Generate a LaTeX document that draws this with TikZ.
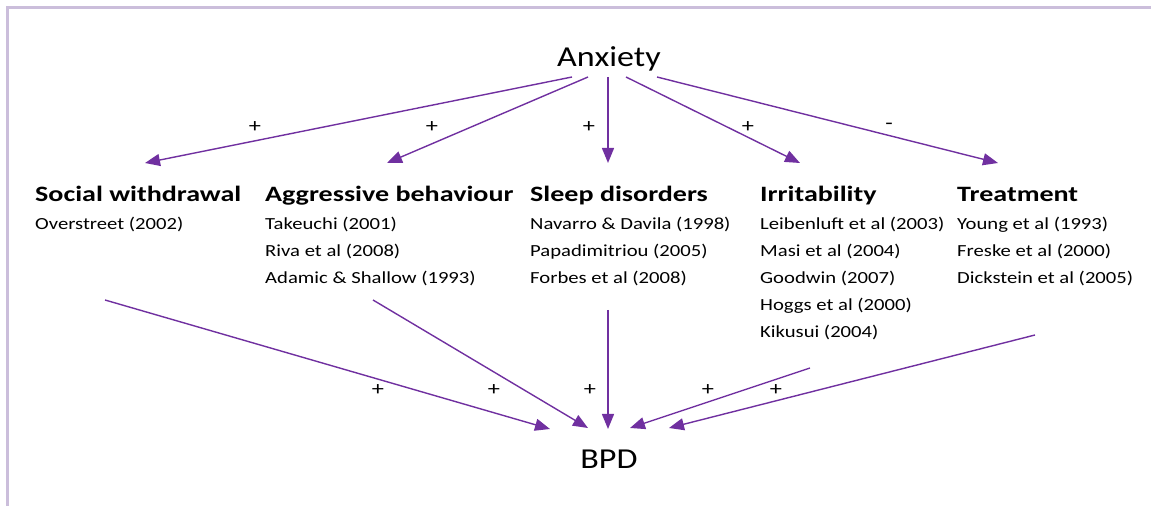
\documentclass[tikz,border=0pt]{standalone}
\usepackage{fontspec}
\setmainfont{Carlito}
\newfontfamily\bigfont{Carlito}[FakeStretch=1.18]
\newfontfamily\headfont{Carlito}[FakeStretch=1.28]
\newfontfamily\citefont{Carlito}[FakeStretch=1.22]
\usetikzlibrary{arrows.meta}
\definecolor{purp}{HTML}{7030A0}
\definecolor{frame}{HTML}{CBBEDB}
\begin{document}
\begin{tikzpicture}[x=1bp,y=-1bp,
  big/.style={font=\bigfont\fontsize{29}{32}\selectfont, inner sep=0pt, anchor=base},
  head/.style={font=\headfont\fontsize{22}{24}\selectfont\bfseries, inner sep=0pt, anchor=base west},
  cite/.style={font=\citefont\fontsize{17}{19}\selectfont, inner sep=0pt, anchor=base west, align=left},
  sign/.style={font=\citefont\fontsize{20}{22}\selectfont, inner sep=0pt},
  link/.style={draw=purp, line width=1.4bp, -{Triangle[length=15bp,width=12bp]}}]
\useasboundingbox (0,0) rectangle (1151,506);
\draw[frame, line width=3bp] (7.5,506) -- (7.5,7.5) -- (1151,7.5);
% main nodes
\node[big] (anx) at (609,67) {Anxiety};
\node[big] (bpd) at (609,468) {BPD};
% headers
\node[head] (h1) at (35,202) {Social withdrawal};
\node[head] (h2) at (265,202) {Aggressive behaviour};
\node[head] (h3) at (530,202) {Sleep disorders};
\node[head] (h4) at (760,202) {Irritability};
\node[head] (h5) at (957,202) {Treatment};
% citations
\node[cite] (c1) at (35,230) {Overstreet (2002)};
\node[cite] (c2a) at (265,230) {Takeuchi (2001)};
\node[cite] (c2b) at (265,257) {Riva et al (2008)};
\node[cite] (c2c) at (265,284) {Adamic \& Shallow (1993)};
\node[cite] (c3a) at (530,230) {Navarro \& Davila (1998)};
\node[cite] (c3b) at (530,257) {Papadimitriou (2005)};
\node[cite] (c3c) at (530,284) {Forbes et al (2008)};
\node[cite] (c4a) at (760,230) {Leibenluft et al (2003)};
\node[cite] (c4b) at (760,257) {Masi et al (2004)};
\node[cite] (c4c) at (760,284) {Goodwin (2007)};
\node[cite] (c4d) at (760,311) {Hoggs et al (2000)};
\node[cite] (c4e) at (760,338) {Kikusui (2004)};
\node[cite] (c5a) at (957,230) {Young et al (1993)};
\node[cite] (c5b) at (957,257) {Freske et al (2000)};
\node[cite] (c5c) at (957,284) {Dickstein et al (2005)};
% anchor coordinates
\coordinate (a1) at (572,77);
\coordinate (a2) at (588,77);
\coordinate (a3) at (608,77);
\coordinate (a4) at (626,77);
\coordinate (a5) at (657,77);
\coordinate (t1) at (145,163);
\coordinate (t2) at (387,163);
\coordinate (t3) at (608,163);
\coordinate (t4) at (800,163);
\coordinate (t5) at (998,163);
\coordinate (s1) at (105,300);
\coordinate (s2) at (373,300);
\coordinate (s3) at (608,310);
\coordinate (s4) at (810,368);
\coordinate (s5) at (1035,335);
\coordinate (b1) at (550,429);
\coordinate (b2) at (588,428);
\coordinate (b3) at (608,429);
\coordinate (b4) at (630,428);
\coordinate (b5) at (669,428);
% top arrows
\draw[link] (a1) -- (t1);
\draw[link] (a2) -- (t2);
\draw[link] (a3) -- (t3);
\draw[link] (a4) -- (t4);
\draw[link] (a5) -- (t5);
\node[sign] (p1) at (255,127) {+};
\node[sign] (p2) at (432,127) {+};
\node[sign] (p3) at (589,127) {+};
\node[sign] (p4) at (748,127) {+};
\node[sign] (p5) at (889,126) {-};
% bottom arrows
\draw[link] (s1) -- (b1);
\draw[link] (s2) -- (b2);
\draw[link] (s3) -- (b3);
\draw[link] (s4) -- (b4);
\draw[link] (s5) -- (b5);
\node[sign] (q1) at (378,390) {+};
\node[sign] (q2) at (494,390) {+};
\node[sign] (q3) at (590,390) {+};
\node[sign] (q4) at (708,390) {+};
\node[sign] (q5) at (776,390) {+};
\end{tikzpicture}
\end{document}
